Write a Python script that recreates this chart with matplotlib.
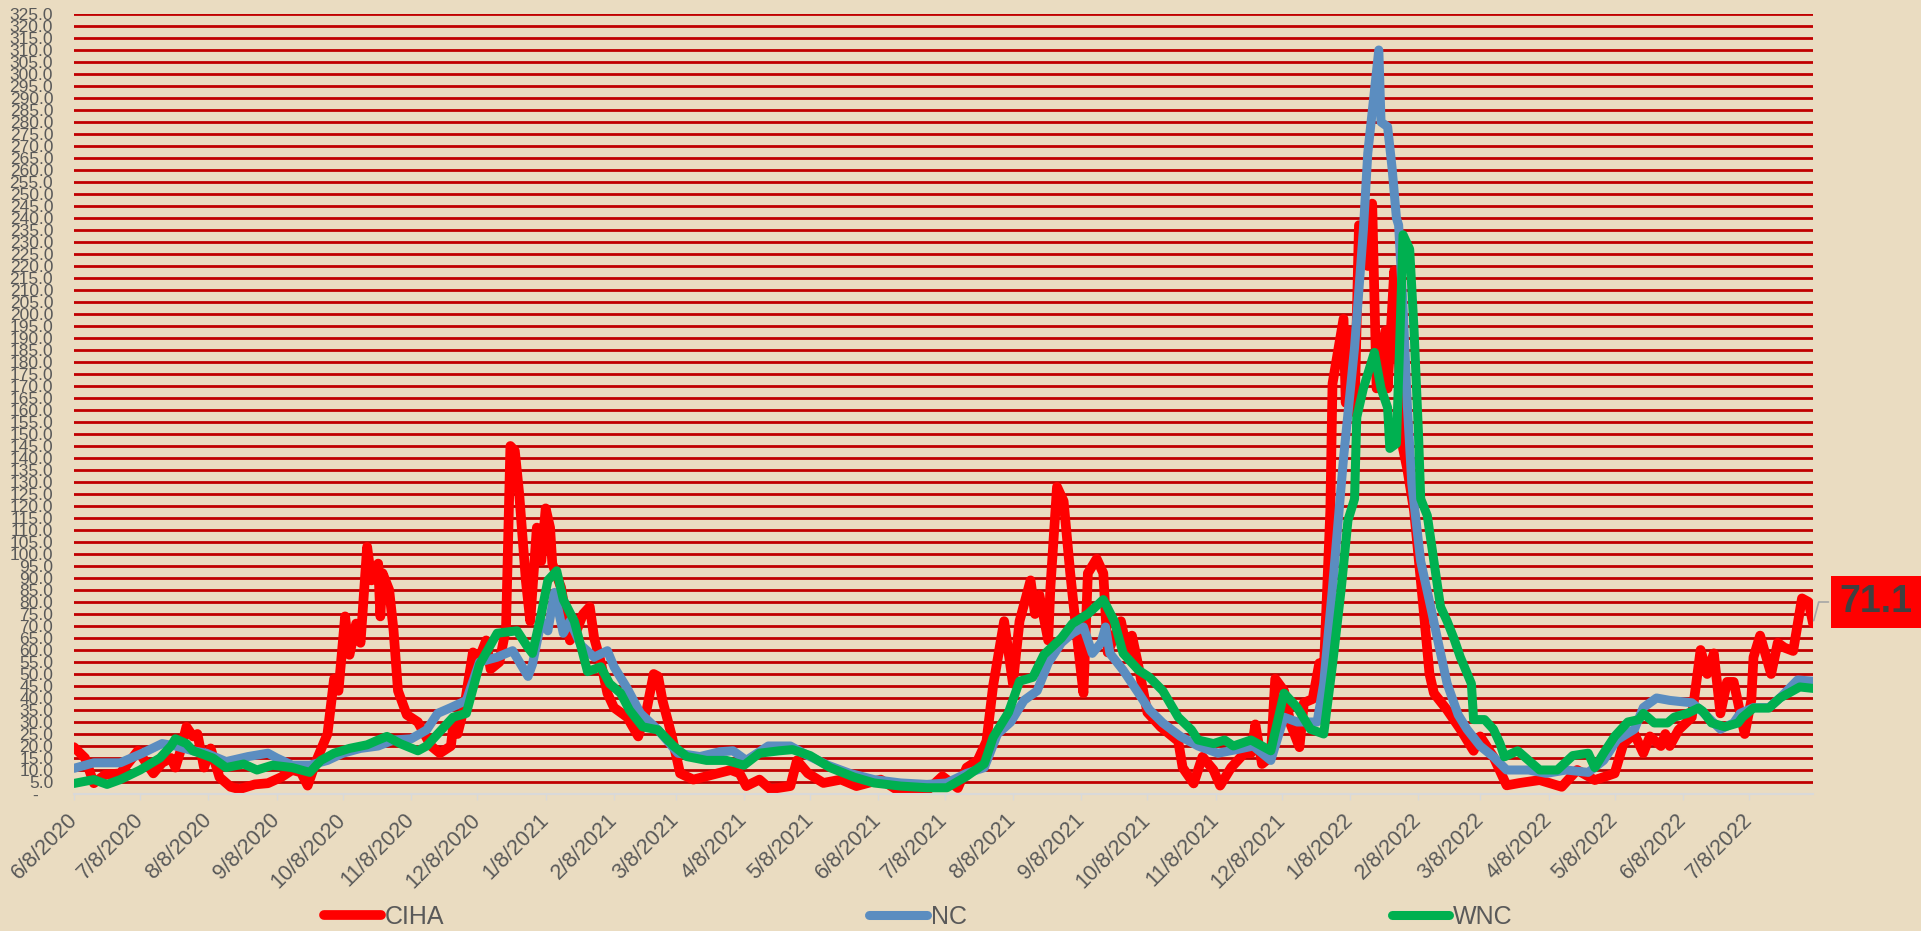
import numpy as np
import pandas as pd
import matplotlib
matplotlib.use('Agg')
import matplotlib.pyplot as plt

plt.rcParams['font.family'] = ['Liberation Sans', 'DejaVu Sans']

start = pd.Timestamp('2020-06-08')
end = pd.Timestamp('2022-08-06')

# days after 6/8/2020
ciha_days = [0, 5, 9, 14, 21, 29, 36, 40, 44, 46, 48, 51, 54, 56, 59, 62, 66, 71, 75, 82, 88, 94, 99, 103,
             106, 110, 115, 118, 120, 123, 125, 128, 130, 133, 135, 138, 139, 140, 143, 145, 147, 151, 156,
             162, 166, 171, 172, 174, 177, 181, 184, 187, 189, 193, 196, 198, 200, 202, 205, 207, 210, 212,
             214, 216, 217, 221, 225, 228, 231, 234, 236, 239, 242, 245, 251, 256, 260, 263, 265, 267, 271,
             275, 281, 292, 298, 302, 305, 311, 316, 325, 328, 333, 340, 348, 355, 366, 374, 387, 394, 401,
             405, 410, 414, 417, 422, 426, 429, 434, 436, 438, 442, 443, 446, 449, 452, 455, 458, 460, 464,
             467, 469, 475, 478, 480, 483, 487, 493, 501, 503, 508, 512, 517, 520, 525, 531, 534, 536, 539,
             543, 545, 549, 552, 556, 558, 562, 565, 567, 570, 571, 576, 577, 578, 581, 583, 587, 589, 591,
             595, 596, 599, 601, 603, 605, 608, 612, 615, 617, 623, 629, 635, 638, 644, 650, 656, 665, 675,
             682, 690, 699, 703, 708, 712, 715, 720, 722, 724, 728, 734, 738, 741, 744, 747, 750, 753, 756,
             758, 761, 762, 765, 770, 773, 776, 780, 784, 787, 789]
ciha = [19.5, 15, 4.5, 8, 8.6, 18, 8.6, 13, 15, 11, 17, 28, 24, 25, 11, 19, 7, 3, 2, 4, 4.5, 7, 10, 9,
        3.5, 14, 25, 48, 43, 74, 58, 71, 63, 103, 89, 96, 74, 92, 85, 68, 43, 33, 30,
        20, 17, 20, 28, 25, 36, 59, 57, 64, 52, 55, 69, 145, 143, 125, 89, 72, 111, 97,
        119, 111, 96, 86, 64, 68, 75, 78, 65, 55, 42, 36, 32, 24, 36, 50, 49, 39, 25,
        8.6, 6, 8.6, 10, 8.6, 3.3, 6, 2, 3.3, 14, 8.6, 4.6, 6, 3.3, 6, 1.4, 1.4, 7.4, 2.5,
        11, 14, 22, 45, 72, 46, 72, 89, 75, 83, 64, 86, 128, 122, 92, 66, 42, 92, 98,
        92, 59, 72, 59, 66, 53, 34, 28, 22, 11, 4.4, 15.5, 10, 3.5, 11, 17, 17, 29, 12.5,
        15.5, 48, 43, 29, 19.5, 38, 39.6, 54.5, 50, 118, 171, 198, 163, 193, 159, 237, 220, 246, 169,
        193, 169, 218, 182, 144, 135, 118, 80, 50, 42, 35, 27, 18, 24, 15.5, 3.6, 4.6, 5.8, 3,
        10, 5.8, 8.6, 21, 25, 17, 24, 20, 25, 20, 26.7, 32, 60, 50, 58.6, 33.6, 46.7, 46.7, 33.6,
        25, 39, 57, 66, 50, 63, 61, 59.6, 81.5, 80, 71.1]

nc_days = [0, 9, 21, 31, 40, 46, 54, 60, 69, 79, 88, 92, 99, 107, 115, 122, 130, 138, 145, 153, 160, 165,
           171, 178, 184, 192, 199, 206, 208, 212, 215, 218, 222, 225, 230, 236, 242, 245, 251, 257, 265,
           274, 284, 293, 299, 305, 315, 325, 333, 342, 352, 363, 375, 387, 396, 405, 413, 419, 425, 431,
           437, 442, 448, 453, 458, 462, 466, 468, 470, 476, 483, 488, 494, 502, 510, 519, 528, 535, 543,
           549, 555, 564, 567, 571, 576, 581, 585, 587, 592, 593, 596, 598, 600, 601, 603, 605, 607, 611,
           616, 619, 623, 628, 632, 638, 644, 650, 660, 668, 677, 687, 694, 700, 708, 712, 718, 724, 734,
           738, 744, 747, 753, 756, 762, 769, 774, 782, 789]
nc = [10.7, 13, 13, 17, 21, 20, 18, 17, 13.5, 15.6, 17, 15, 12, 12, 14, 17, 19, 20, 22.5, 23, 26.7, 33.6,
      36, 39, 55, 57, 59.7, 49, 54, 72, 68, 84, 67, 72, 62, 57, 59.7, 53, 44, 33.6, 26.7,
      17, 15.6, 17.6, 18, 14, 20, 20, 16, 12, 8.6, 6, 4.6, 4, 4.6, 8.6, 11, 25, 30, 39,
      43, 54.6, 63, 67, 69.6, 58.6, 63, 69.6, 58.6, 51.6, 42, 35, 29.6, 24, 20, 17, 18.6, 20, 14,
      32, 30, 30, 46, 86, 140, 186, 235, 267, 310, 280, 278, 261, 240, 237, 203, 161, 129, 97,
      76, 63, 46, 33, 27, 20, 15.5, 10, 10, 8.6, 10, 9, 14, 22.5, 27, 36, 40, 39, 38,
      35, 29.6, 27, 29.6, 33.6, 36, 36, 40, 47.5, 47]

wnc_days = [0, 9, 15, 21, 30, 39, 44, 46, 51, 54, 63, 69, 77, 83, 90, 99, 107, 112, 118, 125, 133, 138, 142,
            148, 156, 160, 165, 172, 178, 184, 192, 201, 206, 208, 212, 215, 219, 222, 227, 233, 239, 243,
            248, 252, 258, 265, 272, 278, 287, 296, 304, 311, 320, 326, 334, 343, 354, 363, 375, 387, 396,
            405, 413, 417, 424, 429, 435, 440, 448, 453, 460, 467, 472, 476, 483, 488, 494, 501, 507, 510,
            517, 522, 526, 534, 543, 549, 555, 561, 567, 571, 575, 578, 581, 582, 585, 590, 593, 596, 597,
            600, 602, 603, 606, 608, 610, 611, 614, 617, 620, 623, 626, 629, 634, 635, 640, 644, 647, 649,
            655, 660, 665, 673, 680, 687, 690, 694, 699, 705, 710, 712, 717, 723, 726, 732, 737, 739, 743,
            749, 755, 757, 762, 769, 774, 783, 789]
wnc = [4.4, 6, 4, 6, 10, 15, 20, 23, 21, 18, 15, 11, 12.5, 10, 12, 11, 9, 14, 17, 19, 20.5, 22.5, 24,
       21, 18, 20, 25, 32, 33.6, 54, 67, 68, 61, 58.6, 75, 89, 93, 81, 72, 51, 53, 46,
       42, 35, 28, 26.7, 20, 15.6, 14, 14, 12, 17, 18, 18.5, 16, 11, 7, 4.6, 3.3, 2.6, 2.6,
       7.4, 12.6, 23.6, 34, 47, 48.6, 58, 65, 71, 75, 81, 72, 58.6, 51.6, 48.6, 43, 32, 26.7, 22.5,
       21, 22.5, 20, 22.5, 18, 42, 36, 27, 25, 54, 86, 114, 123, 157, 169, 184, 169, 161, 144,
       146, 203, 233, 227, 193, 150, 123, 116, 97, 78, 72, 65, 57, 46, 31, 31, 27, 21, 15.5,
       18, 14, 10, 10, 16, 17, 11, 17, 24, 30, 31, 33.6, 29.6, 29.6, 32, 33.6, 35.8, 34.5, 29.6,
       28, 29.6, 32, 35.8, 35.8, 40, 44.6, 44]

series = [('CIHA', ciha_days, ciha, '#FF0000', 7.0),
          ('NC', nc_days, nc, '#5B8DC0', 6.5),
          ('WNC', wnc_days, wnc, '#00B050', 6.5)]

bg = '#EADCC1'
grey = '#595959'

fig = plt.figure(figsize=(19.21, 9.31), dpi=100, facecolor=bg)
ax = fig.add_axes([74 / 1921, 1 - 794 / 931, (1813 - 74) / 1921, (794 - 14) / 931])
ax.set_facecolor(bg)

lines = []
for name, days, vals, col, w in series:
    dates = start + pd.to_timedelta(days, unit='D')
    ln, = ax.plot(dates, vals, color=col, lw=w, label=name,
                  solid_joinstyle='round', solid_capstyle='round')
    lines.append(ln)

ax.set_xlim(start, end)
ax.set_ylim(0, 325)

yt = np.arange(0, 330, 5)
ax.set_yticks(yt)
ax.set_yticklabels(['-   ' if v == 0 else '%.1f' % v for v in yt])
ax.yaxis.grid(True, color='#C00000', lw=2.0)
ax.set_axisbelow(True)
ax.tick_params(axis='y', length=0, pad=15, labelsize=12.5, labelcolor=grey)

xt = pd.date_range('2020-06-08', '2022-07-08', freq=pd.DateOffset(months=1))
ax.set_xticks(xt)
ax.set_xticklabels(['%d/%d/%d' % (d.month, d.day, d.year) for d in xt],
                   rotation=45, ha='right', va='center', rotation_mode='anchor')
ax.tick_params(axis='x', length=4.5, width=1, color='#D9D9D9', pad=12,
               labelsize=15.5, labelcolor=grey)

for s in ['top', 'left', 'right']:
    ax.spines[s].set_visible(False)
ax.spines['bottom'].set_color('#D9D9D9')
ax.spines['bottom'].set_linewidth(1.5)

# data label for the last CIHA value
ax.annotate('%.1f' % ciha[-1], xy=(start + pd.Timedelta(days=ciha_days[-1]), ciha[-1]),
            xytext=(1876, 329), textcoords='figure pixels', ha='center', va='center',
            fontsize=27, fontweight='bold', color='#404040',
            bbox=dict(boxstyle='square,pad=0.22', fc='#FF0000', ec='none'),
            arrowprops=dict(arrowstyle='-', color='#A6A6A6', lw=1.2,
                            connectionstyle='angle,angleA=0,angleB=75,rad=0'),
            annotation_clip=False)

leg = fig.legend(handles=lines, loc='center', bbox_to_anchor=(918 / 1921, 1 - 917 / 931),
                 ncol=3, frameon=False, fontsize=18, handlelength=2.3, handletextpad=0.15,
                 columnspacing=17.0)
for t in leg.get_texts():
    t.set_color(grey)

fig.savefig('out.png', dpi=100, facecolor=bg)
